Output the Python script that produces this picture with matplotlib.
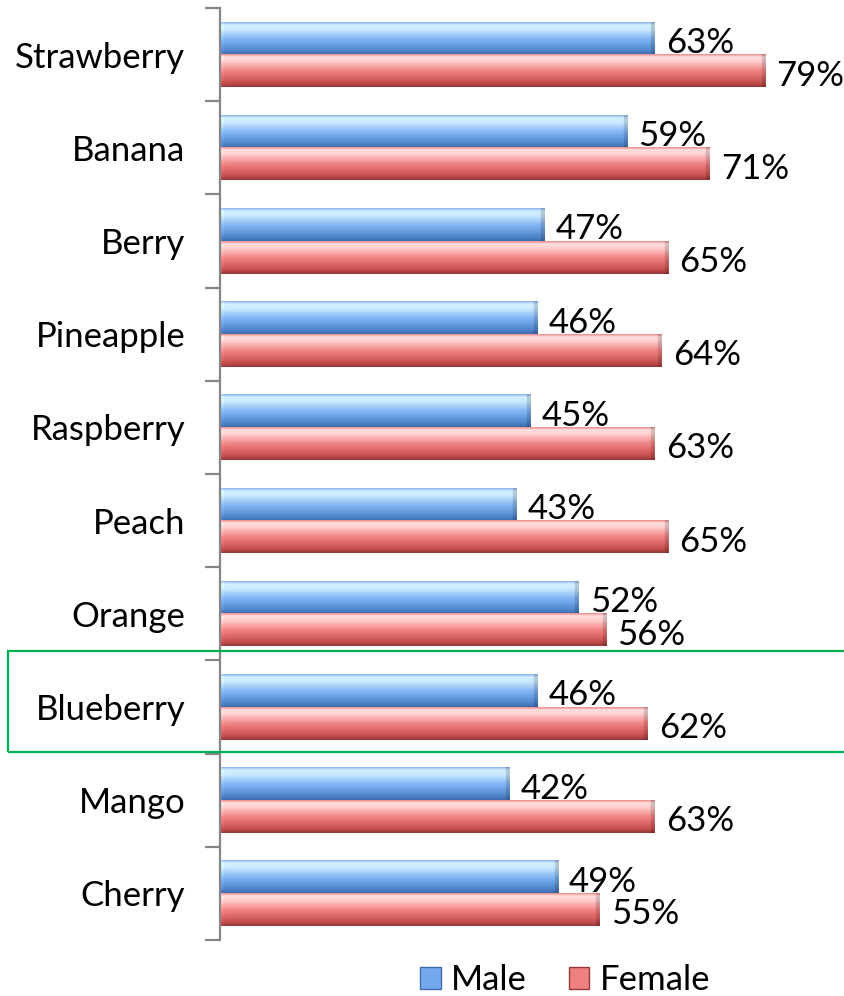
import numpy as np
import matplotlib
matplotlib.use("Agg")
import matplotlib.pyplot as plt
from matplotlib.patches import Rectangle, Patch
from matplotlib.transforms import blended_transform_factory

plt.rcParams['font.family'] = ['Lato', 'DejaVu Sans']

# survey data: share of respondents who like each flavour
fruits = ["Strawberry", "Banana", "Berry", "Pineapple", "Raspberry",
          "Peach", "Orange", "Blueberry", "Mango", "Cherry"]
male = [63, 59, 47, 46, 45, 43, 52, 46, 42, 49]
female = [79, 71, 65, 64, 63, 65, 56, 62, 63, 55]
series_names = ["Male", "Female"]
highlight = "Blueberry"

# vertical shading stops (fraction from top, rgb) for the glossy bars
blue_stops = [(0.0, (0.55, 0.70, 0.93)), (0.08, (0.82, 0.94, 1.0)),
              (0.22, (0.80, 0.92, 1.0)), (0.5, (0.52, 0.72, 0.96)),
              (0.85, (0.32, 0.54, 0.82)), (1.0, (0.25, 0.42, 0.68))]
red_stops = [(0.0, (0.92, 0.55, 0.55)), (0.08, (1.0, 0.88, 0.88)),
             (0.22, (1.0, 0.80, 0.80)), (0.5, (0.95, 0.52, 0.52)),
             (0.85, (0.80, 0.32, 0.32)), (1.0, (0.60, 0.22, 0.22))]


def bar_image(stops, v, rows=60, per_unit=10, bevel=6):
    t = np.linspace(0, 1, rows)
    pos = [s[0] for s in stops]
    col = np.stack([np.interp(t, pos, [s[1][k] for s in stops]) for k in range(3)], axis=1)
    ncol = max(int(v * per_unit), 2 * bevel + 1)
    img = np.repeat(col[:, None, :], ncol, axis=1)
    # darker bevel at the right end, slightly lighter at the left end
    img[:, -bevel:, :] *= 0.85
    img[:, :bevel, :] = np.clip(img[:, :bevel, :] * 1.05, 0, 1)
    return img


fig = plt.figure(figsize=(8.44, 9.96), dpi=100)
ax = fig.add_axes([220 / 844, 56 / 996, 1 - 220 / 844, (940 - 8) / 996])

n = len(fruits)
h = 0.35
for i in range(n):
    yc = n - 1 - i
    for vals, stops in ((male, blue_stops), (female, red_stops)):
        v = vals[i]
        if stops is blue_stops:
            y0, y1 = yc, yc + h
        else:
            y0, y1 = yc - h, yc
        ax.imshow(bar_image(stops, v), extent=[0, v, y0, y1], origin='upper',
                  aspect='auto', interpolation='bilinear', zorder=2)
        ax.text(v + 1.6, (y0 + y1) / 2 - 0.05, f"{v}%", fontsize=25,
                va='center', ha='left', color='black', zorder=3)

ax.set_xlim(0, (844 - 220) / 6.9)
ax.set_ylim(-0.5, n - 0.5)

ax.set_yticks(np.arange(n))
ax.set_yticklabels(fruits[::-1], fontsize=25)
ax.set_yticks(np.arange(n + 1) - 0.5, minor=True)
ax.tick_params(axis='y', which='major', length=0, pad=25)
ax.tick_params(axis='y', which='minor', length=11, width=1.6, color='#868686')
ax.set_xticks([])
for s in ("top", "right", "bottom"):
    ax.spines[s].set_visible(False)
ax.spines['left'].set_color('#868686')
ax.spines['left'].set_linewidth(1.6)

# box around the highlighted category
k = n - 1 - fruits.index(highlight)
tr = blended_transform_factory(fig.transFigure, ax.transData)
ax.add_patch(Rectangle((8 / 844, k - 0.48), 1.0, 1.084, transform=tr,
                       fill=False, edgecolor='#00b050', linewidth=1.6,
                       clip_on=False, zorder=4))

handles = [Patch(facecolor=(0.45, 0.66, 0.93), edgecolor=(0.25, 0.42, 0.68)),
           Patch(facecolor=(0.93, 0.50, 0.50), edgecolor=(0.60, 0.22, 0.22))]
fig.legend(handles, series_names, loc='center', bbox_to_anchor=(565 / 844, 1 - 980 / 996),
           ncol=2, frameon=False, fontsize=25, handlelength=0.6, handleheight=0.6,
           handletextpad=0.3, columnspacing=1.2)

fig.savefig("out.png", dpi=100)
